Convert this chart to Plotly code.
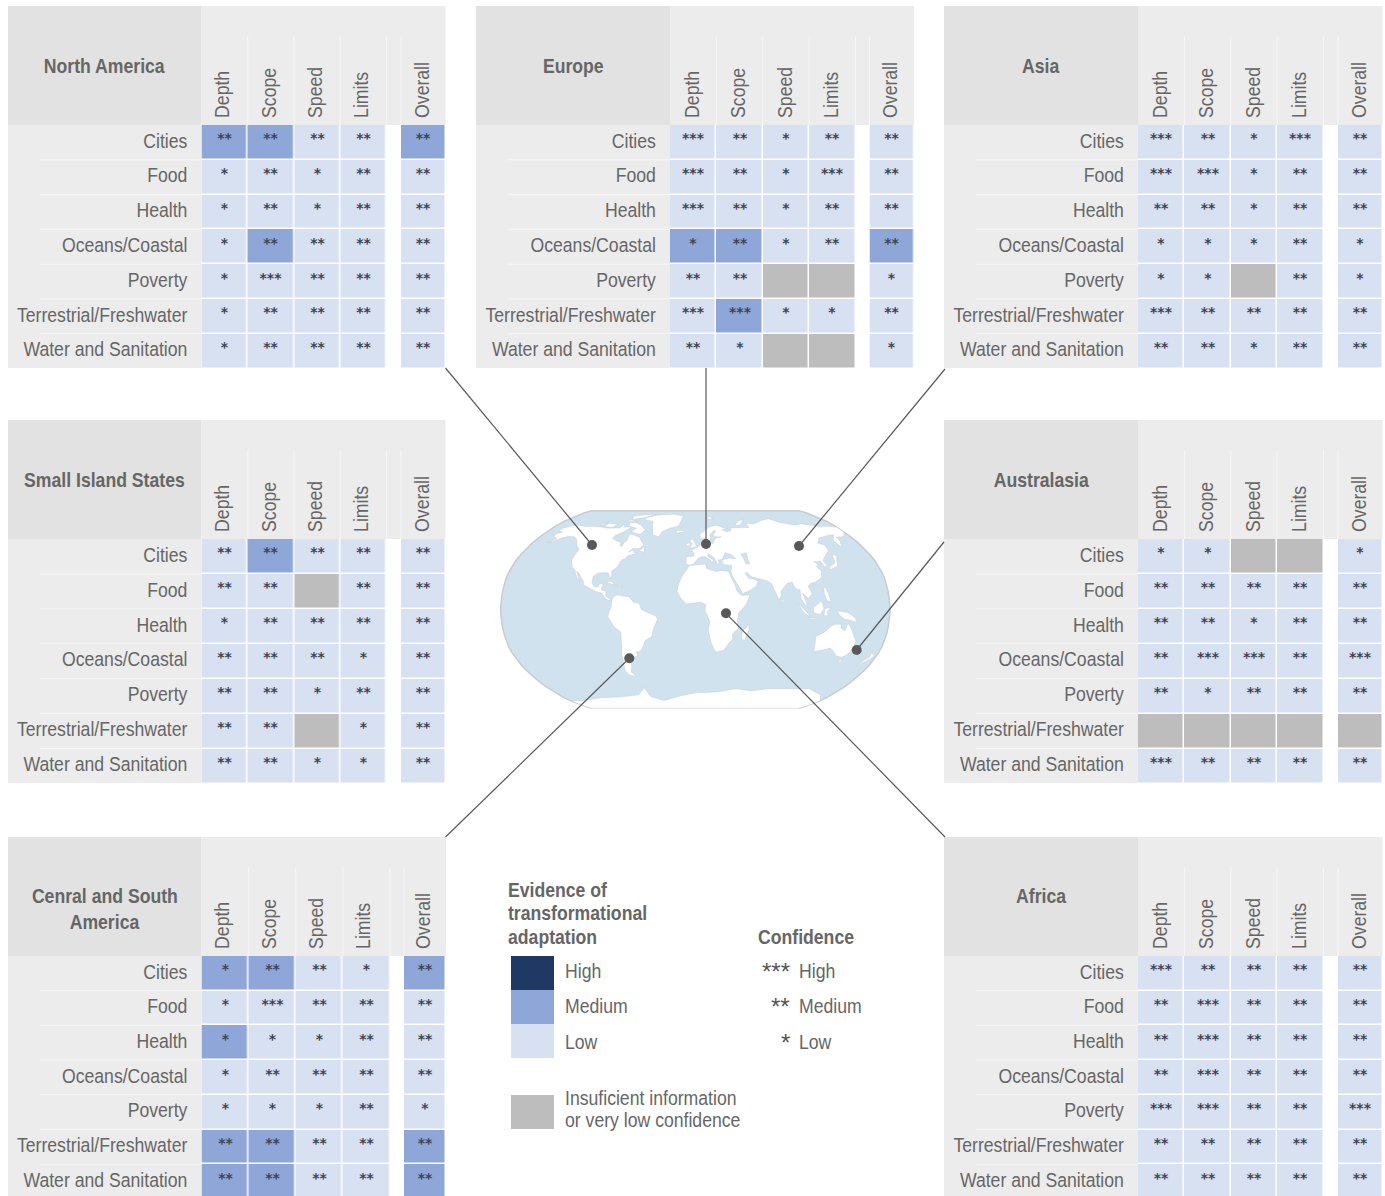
import numpy as np
import plotly.graph_objects as go

# ---------- data ----------
dimensions = ["Depth", "Scope", "Speed", "Limits"]
overall_label = ["Overall"]
sectors = ["Cities", "Food", "Health", "Oceans/Coastal", "Poverty",
           "Terrestrial/Freshwater", "Water and Sanitation"]

# evidence: 0 insufficient, 1 low, 2 medium, 3 high (columns Depth, Scope, Speed, Limits, Overall)
evidence_na = [[2,2,1,1,2],[1,1,1,1,1],[1,1,1,1,1],[1,2,1,1,1],[1,1,1,1,1],[1,1,1,1,1],[1,1,1,1,1]]
evidence_eu = [[1,1,1,1,1],[1,1,1,1,1],[1,1,1,1,1],[2,2,1,1,2],[1,1,0,0,1],[1,2,1,1,1],[1,1,0,0,1]]
evidence_as = [[1,1,1,1,1],[1,1,1,1,1],[1,1,1,1,1],[1,1,1,1,1],[1,1,0,1,1],[1,1,1,1,1],[1,1,1,1,1]]
evidence_si = [[1,2,1,1,1],[1,1,0,1,1],[1,1,1,1,1],[1,1,1,1,1],[1,1,1,1,1],[1,1,0,1,1],[1,1,1,1,1]]
evidence_au = [[1,1,0,0,1],[1,1,1,1,1],[1,1,1,1,1],[1,1,1,1,1],[1,1,1,1,1],[0,0,0,0,0],[1,1,1,1,1]]
evidence_cs = [[2,2,1,1,2],[1,1,1,1,1],[2,1,1,1,1],[1,1,1,1,1],[1,1,1,1,1],[2,2,1,1,2],[2,2,1,1,2]]
evidence_af = [[1,1,1,1,1],[1,1,1,1,1],[1,1,1,1,1],[1,1,1,1,1],[1,1,1,1,1],[1,1,1,1,1],[1,1,1,1,1]]

# confidence: number of stars
confidence_na = [[2,2,2,2,2],[1,2,1,2,2],[1,2,1,2,2],[1,2,2,2,2],[1,3,2,2,2],[1,2,2,2,2],[1,2,2,2,2]]
confidence_eu = [[3,2,1,2,2],[3,2,1,3,2],[3,2,1,2,2],[1,2,1,2,2],[2,2,0,0,1],[3,3,1,1,2],[2,1,0,0,1]]
confidence_as = [[3,2,1,3,2],[3,3,1,2,2],[2,2,1,2,2],[1,1,1,2,1],[1,1,0,2,1],[3,2,2,2,2],[2,2,1,2,2]]
confidence_si = [[2,2,2,2,2],[2,2,0,2,2],[1,2,2,2,2],[2,2,2,1,2],[2,2,1,2,2],[2,2,0,1,2],[2,2,1,1,2]]
confidence_au = [[1,1,0,0,1],[2,2,2,2,2],[2,2,1,2,2],[2,3,3,2,3],[2,1,2,2,2],[0,0,0,0,0],[3,2,2,2,2]]
confidence_cs = [[1,2,2,1,2],[1,3,2,2,2],[1,1,1,2,2],[1,2,2,2,2],[1,1,1,2,1],[2,2,2,2,2],[2,2,2,2,2]]
confidence_af = [[3,2,2,2,2],[2,3,2,2,2],[2,3,2,2,2],[2,3,2,2,2],[3,3,2,2,3],[2,2,2,2,2],[2,2,2,2,2]]

region_names = [["North America"], ["Europe"], ["Asia"], ["Small Island States"], ["Australasia"],
                ["Cenral and South", "America"], ["Africa"]]

# coastlines, lon/lat, as rough reading of the base map
land_polygons = [
 [(-168,65.6),(-166,68.3),(-156.5,71.3),(-141,69.7),(-128,70),(-115,68.5),(-108,68),(-95,68.5),(-94,72),(-90,69),(-85,69.5),(-81.5,68.5),(-87,64.5),(-94,61),(-94.5,58.7),(-88,56.5),(-82,55),(-82,52.5),(-79,51.5),(-79,55),(-77,56.5),(-78,62.3),(-73,62),(-70,61),(-65,60),(-62,57.5),(-56,53),(-60,50),(-66,50),(-70,47),(-65,49),(-64.5,47),(-61,46),(-66,44.5),(-70,43.5),(-70,41.7),(-74,40.5),(-76,37),(-76,35),(-81,31.5),(-80,27),(-80.5,25.2),(-82.7,28),(-84,30),(-89,30),(-94,29.5),(-97.5,27),(-97.7,22),(-95,18.5),(-91,18.5),(-90.5,21),(-87,21.5),(-88,16),(-83.5,15),(-83.5,11),(-80,9),(-77.5,8.5),(-80,7.5),(-83,8.3),(-87,13),(-92,14.5),(-96,16),(-105,20),(-106,23),(-112,29.5),(-114.7,31),(-112,27),(-110,23),(-112,25),(-115,29),(-117,32.5),(-120.5,34.5),(-122.5,37.5),(-124.3,40.5),(-124,46),(-123,49),(-128,52),(-131,55),(-135,58),(-140,60),(-147,60.5),(-152,59.5),(-158,56.5),(-164,54.8),(-158,58.5),(-165,60.5),(-165,63),(-161,64.5)],
 [(-73,78.2),(-60,82),(-35,83.5),(-18,81),(-20,74),(-22,70),(-32,68),(-40,65),(-43,60),(-50,62),(-54,68),(-58,75),(-68,76)],
 [(-80,73.5),(-72,71.5),(-62,66.5),(-65,62.5),(-72,63.5),(-78,65),(-74,68),(-85,70),(-88,73.5)],
 [(-90,77),(-75,78.5),(-62,82.5),(-75,83),(-92,81)],
 [(-117,69.5),(-105,69),(-102,72),(-115,73)],
 [(-125,72),(-118,74.5),(-122,71)],
 [(-96,74.5),(-80,74.8),(-90,76.5)],
 [(-59,47.7),(-53,47),(-55.5,51.5)],
 [(-85,22),(-75,20),(-80,23)],
 [(-74,19.5),(-68.5,18.5),(-71,18)],
 [(-77.5,8.5),(-75,11),(-72,12),(-68,11),(-62,10.5),(-57,6),(-52,5),(-50,0),(-44,-2.5),(-37,-5),(-35,-8),(-39,-15),(-41,-22),(-48,-25.5),(-50,-30),(-54,-34.5),(-58,-34.5),(-57,-38),(-62,-39),(-65,-42),(-66,-46),(-69,-51),(-65,-55),(-72,-54),(-75,-50),(-73,-42),(-73,-37),(-71,-30),(-70,-18.5),(-76,-14),(-81,-6),(-80,-2),(-78,2)],
 [(-9,37),(-9.5,43),(-2,43.5),(-1,46),(-4.5,48.5),(2,51),(8,54),(8,57),(10.5,57.5),(10,54.5),(14,54),(20,54.5),(21,57),(24,59),(30,60),(23,60),(21,62),(25,65.5),(22,65.5),(17,61.5),(18,59.5),(16,56),(13,55.5),(11,59),(6,58.2),(5,62),(13,67),(20,70),(28,71),(40,67),(33,66.5),(38,64.5),(44,66),(44,68.5),(54,68.5),(60,69),(68,68.5),(67,72.5),(73,73),(75,72),(80,73),(90,75.5),(105,77.7),(113,74),(130,71),(140,72.5),(160,69.7),(170,70),(180,69),(180,65),(177,62.5),(170,60),(163,59.8),(162,56),(156.7,51),(155.5,57),(163,62),(156,61.5),(142,59),(135,54.5),(141,53),(140,48),(132,43),(128,40),(129.5,36),(126.5,34.5),(126,37.5),(125,39.8),(121,39),(118,39),(122,37),(119,35),(122,31),(120,26),(114,22.5),(109,21.5),(106,19),(109,13),(105,9),(100,13.5),(103,5),(104,1.5),(100,6),(98,9),(98,16),(94,17),(91.5,22.5),(87,21.5),(80,15),(80,11),(77.5,8),(73,18),(72,21),(68,23.5),(62,25),(57,26),(54,26.5),(50,30),(48,30),(51,25),(55,25),(59.5,23),(57,19),(52,16),(44,12.8),(42.5,16),(39,21),(35,28),(34.5,31.5),(36,36),(30,36.3),(27,37.5),(26.5,40),(29,41),(35,42),(41,41.5),(37,45),(33.5,46),(31,46.5),(28,42),(26,40.7),(23,40.5),(24,38),(22,36.8),(19.5,41),(19,42.5),(13.5,45.5),(12.5,44),(16,41.5),(18.4,40),(16,38),(15.5,40),(10.5,43),(6,43),(3,42),(0,39.5),(-2,37),(-5.5,36)],
 [(-6,35.8),(10,37.2),(11,33.5),(15,32.3),(20,31),(25,31.7),(32,31.2),(32.5,30),(35.5,24),(37,21),(39,15),(43,11.5),(51,12),(47,4),(40,-3),(39,-10),(40.5,-15),(35,-20),(35.5,-24),(32.5,-27),(28,-33),(20,-34.8),(18,-32),(15,-27),(12,-17),(13.5,-10),(9,-1),(9.5,4),(5,6),(-4,5),(-8,4.5),(-13,8.5),(-17,14.5),(-16,20),(-13,27),(-9.5,31)],
 [(49.5,-12),(50.3,-16),(47,-25),(44,-24.5),(44,-17),(47,-15.5)],
 [(114,-22),(122,-18),(126,-14),(130,-12),(136,-12),(136,-15),(140,-17.5),(142,-11),(145.5,-15),(149,-21),(153,-26),(153,-31),(150,-37),(146,-39),(140,-38),(136,-35),(131,-31.5),(124,-33),(115.5,-34.5),(115,-30)],
 [(145,-41),(148,-41),(147,-43.5)],
 [(173,-35),(178,-38),(175,-41),(172,-43),(167,-46.5),(171,-41),(174,-39)],
 [(130,32),(136,34),(140,35.5),(142,40),(145,44),(141,45),(139,38),(132,35)],
 [(95,5.5),(104,-3),(106,-6),(101,-3),(97,2)],
 [(105,-6.5),(114,-7.5),(114,-8.5),(106,-7.5)],
 [(109,1.5),(117,7),(119,1),(116,-4),(110,-3)],
 [(119,-5),(120,1),(125,1.5),(122,-2),(123,-5)],
 [(131,-1),(141,-2.5),(148,-6.5),(150,-10.5),(143,-8.5),(138,-8),(133,-4)],
 [(120.5,18),(122,18),(124,13),(126,7),(122,7),(120,14)],
 [(120,23),(122,25),(121,22)],
 [(80,9),(82,7),(80.5,6)],
 [(-5.5,50),(1.5,51.5),(0,54),(-2,57.5),(-4,58.5),(-6,56),(-3,54),(-5,52)],
 [(-10,52),(-6,52.2),(-6,55),(-10,54)],
 [(-24,65.5),(-14,66),(-14,64.5),(-22,63.5)],
 [(12,78),(22,80),(25,77)],
 [(52,71),(58,71),(68,77),(58,75)],
]
antarctica = [(-60,-64),(-62,-66),(-60,-74),(-45,-78),(-20,-73),(0,-70),(30,-69),(50,-66),(70,-68),(90,-66),(110,-66),(140,-66),(165,-72),(180,-78),(180,-84),(180,-90),(-180,-90),(-180,-84),(-180,-78),(-160,-78),(-130,-75),(-100,-74),(-75,-72)]
inland_sea = [(47,45),(53,46.5),(53,41),(54,37),(50,37.5),(49,41)]

robinson_lat = list(range(0, 95, 5))
robinson_plen = [1.0,0.9986,0.9954,0.99,0.9822,0.973,0.96,0.9427,0.9216,0.8962,0.8679,0.835,0.7986,0.7597,0.7186,0.6732,0.6213,0.5722,0.5322]
robinson_pdfe = [0,0.062,0.124,0.186,0.248,0.31,0.372,0.434,0.4958,0.5571,0.6176,0.6769,0.7346,0.7903,0.8435,0.8936,0.9394,0.9761,1.0]

# ---------- styling ----------
W, H = 1385, 1196
FONT = "Liberation Sans, Arial"
GREY_TXT = "#666666"
C_INS, C_LOW, C_MED, C_HIGH = "#BDBDBD", "#D8E1F2", "#8EA7D8", "#1F3864"
HEAD_DARK, HEAD_LIGHT = "#E2E2E2", "#ECECEC"

panels = [
    (0, 8, 6, evidence_na, confidence_na, 201.5, 386.5, 401, 445.5, 368.5, -2),
    (1, 476, 6, evidence_eu, confidence_eu, 670, 855.5, 869.5, 914, 368.5, -1),
    (2, 944, 6, evidence_as, confidence_as, 1138, 1323.5, 1338, 1382.5, 368.5, -1),
    (3, 8, 420, evidence_si, confidence_si, 201.5, 386.5, 401, 445.5, 783.5, -2),
    (4, 944, 420, evidence_au, confidence_au, 1138, 1323.5, 1338, 1382.5, 783.5, -1),
    (5, 8, 837, evidence_cs, confidence_cs, 201.5, 390, 404, 446, 1199, -3),
    (6, 944, 837, evidence_af, confidence_af, 1138, 1323.5, 1338, 1382.5, 1199, -1),
]

def px(x): return x / W
def py(y): return 1 - y / H

fig = go.Figure()
shapes, annotations = [], []
layout_axes = {}
scale = [[0, C_INS], [0.25, C_INS], [0.25, C_LOW], [0.5, C_LOW], [0.5, C_MED], [0.75, C_MED], [0.75, C_HIGH], [1, C_HIGH]]
tick_font = dict(family=FONT, size=20.5, color=GREY_TXT)

def rect(x0, y0, x1, y1, color):
    shapes.append(dict(type="rect", xref="paper", yref="paper", x0=px(x0), x1=px(x1),
                       y0=py(y0), y1=py(y1), fillcolor=color, line_width=0, layer="below"))

def line(x0, y0, x1, y1, color="#F6F6F6", width=1):
    shapes.append(dict(type="line", xref="paper", yref="paper", x0=px(x0), x1=px(x1),
                       y0=py(y0), y1=py(y1), line=dict(color=color, width=width), layer="below"))

def note(x, y, text, anchor="left", size=20.5, bold=False, color=GREY_TXT, family=FONT):
    t = f"<b>{text}</b>" if bold else text
    dx = -2 if anchor == "left" else 0
    annotations.append(dict(xref="paper", yref="paper", x=px(x + dx), y=py(y - 1), text=t, showarrow=False,
                            xanchor=anchor, yanchor="middle", align=anchor,
                            font=dict(family=family, size=size, color=color)))

def stars(conf):
    return [["*" * c for c in row] for row in conf]

ax = 1
for idx, x0, y0, ev, conf, cx0, cx1, ox0, ox1, bottom, label_shift in panels:
    top = y0 + 119
    rect(x0, y0, cx0, top, HEAD_DARK)
    rect(cx0, y0, ox1, top, HEAD_LIGHT)
    rect(x0, top, cx0, min(bottom - 0.5, H), HEAD_LIGHT)
    pitch = (bottom - top) / 7
    for r in range(1, 7):
        line(x0 + 32, top + r * pitch, cx0, top + r * pitch)
    w = (cx1 - cx0) / 4
    for c in [1, 2, 3, 4]:
        line(cx0 + c * w, y0 + 30, cx0 + c * w, top)
    line(ox0, y0 + 30, ox0, top)
    main_z = [r[:4] for r in ev]
    main_t = [r[:4] for r in stars(conf)]
    over_z = [r[4:] for r in ev]
    over_t = [r[4:] for r in stars(conf)]
    xa, xb, ya = ax, ax + 1, idx + 1
    names = lambda n: "x" if n == 1 else f"x{n}"
    yname = "y" if ya == 1 else f"y{ya}"
    for xn, cols, z, t in ((xa, dimensions, main_z, main_t), (xb, overall_label, over_z, over_t)):
        fig.add_trace(go.Heatmap(
            x=cols, y=sectors, z=z, text=t, texttemplate="%{text}",
            textfont=dict(family="DejaVu Sans", size=14, color="#3F4454", weight="bold"),
            colorscale=scale, zmin=0, zmax=4, showscale=False, xgap=1.5, ygap=1.5,
            hoverinfo="skip", xaxis=names(xn), yaxis=yname))
    common = dict(type="category", side="top", tickangle=-90, tickfont=tick_font, ticks="outside",
                  ticklen=2, tickcolor="rgba(0,0,0,0)", showgrid=False, zeroline=False,
                  showline=False, anchor=yname, automargin=False, ticklabelshift=label_shift)
    layout_axes[f"xaxis{xa if xa > 1 else ''}"] = dict(common, domain=[px(cx0), px(cx1)],
                                                       range=[-0.5, 3.5], categoryorder="array", categoryarray=dimensions)
    layout_axes[f"xaxis{xb}"] = dict(common, domain=[px(ox0), px(ox1)], range=[-0.5, 0.5],
                                     ticklabelshift=-1 if idx != 5 else -2)
    vis_bottom = min(bottom, H)
    ymax = 6.5 - (bottom - vis_bottom) / pitch
    layout_axes[f"yaxis{ya if ya > 1 else ''}"] = dict(
        type="category", domain=[py(vis_bottom), py(top)], range=[ymax, -0.5],
        categoryorder="array", categoryarray=sectors, tickfont=tick_font, ticks="outside", ticklen=9,
        ticklabelshift=2,
        tickcolor="rgba(0,0,0,0)", showgrid=False, zeroline=False, showline=False,
        anchor=names(xa), automargin=False)
    lines = region_names[idx]
    for k, txt in enumerate(lines):
        title_y = (y0 + 60 if y0 < 800 else y0 + 59) + k * 26
        note((x0 + cx0) / 2, title_y, txt, anchor="center", bold=True)
    ax += 2

# ---------- base map ----------
CX, CY, HW, HH = 695.33, 609.5, 194.67, 98.83
def project(lon, lat):
    a = abs(lat)
    plen = np.interp(a, robinson_lat, robinson_plen)
    pdfe = np.interp(a, robinson_lat, robinson_pdfe)
    return CX + HW * plen * lon / 180, CY - HH * pdfe * (1 if lat >= 0 else -1)

outline = [(-180, la) for la in range(-90, 95, 5)] + [(180, la) for la in range(90, -95, -5)]
mx = f"x{ax}"; my = "y8"
ox, oy = zip(*[project(*p) for p in outline])
fig.add_trace(go.Scatter(x=list(ox), y=list(oy), mode="lines", fill="toself", fillcolor="#CFE2EE",
                         line=dict(color="#C9CCCE", width=1.5), hoverinfo="skip", xaxis=mx, yaxis=my))
for group in (land_polygons, [antarctica]):
    lx, ly = [], []
    for poly in group:
        for lon, lat in poly + poly[:1]:
            a, b = project(lon, lat)
            lx.append(a); ly.append(b)
        lx.append(None); ly.append(None)
    fig.add_trace(go.Scatter(x=lx, y=ly, mode="lines", fill="toself", fillcolor="#FFFFFF",
                             line=dict(color="#C9CDD0", width=0.5), hoverinfo="skip", xaxis=mx, yaxis=my))
sx, sy = zip(*[project(*p) for p in inland_sea + inland_sea[:1]])
fig.add_trace(go.Scatter(x=list(sx), y=list(sy), mode="lines", fill="toself", fillcolor="#CFE2EE",
                         line=dict(color="#C9CDD0", width=0.5), hoverinfo="skip", xaxis=mx, yaxis=my))

# region pointers
pointer_x = [592, 706, 799, 856.7, 726, 629.3]
pointer_y = [545, 544, 546, 650, 613.3, 658.3]
start_x = [445.5, 706, 945, 944, 945, 445.5]
start_y = [368, 368, 369, 542, 837, 837]
for a, b, c, d in zip(start_x, start_y, pointer_x, pointer_y):
    fig.add_trace(go.Scatter(x=[a, c], y=[b, d], mode="lines", line=dict(color="#595959", width=1.2),
                             hoverinfo="skip", xaxis=mx, yaxis=my))
fig.add_trace(go.Scatter(x=pointer_x, y=pointer_y, mode="markers", marker=dict(color="#595959", size=10),
                         hoverinfo="skip", xaxis=mx, yaxis=my))
layout_axes[f"xaxis{ax}"] = dict(domain=[0, 1], range=[0, W], visible=False, anchor=my)
layout_axes["yaxis8"] = dict(domain=[0, 1], range=[H, 0], visible=False, anchor=mx)

# ---------- legend ----------
note(508, 890, "Evidence of", bold=True)
note(508, 913, "transformational", bold=True)
note(508, 937, "adaptation", bold=True)
note(758, 937, "Confidence", bold=True)
for (y0, y1, col, lab, st, yc) in [(956, 990, C_HIGH, "High", "***", 971),
                                   (990, 1024, C_MED, "Medium", "**", 1006),
                                   (1024, 1058, C_LOW, "Low", "*", 1042)]:
    rect(511, y0, 554, y1, col)
    note(565, yc, lab)
    note(799, yc, lab)
    note(792, yc + 1, st, anchor="right", size=24, color="#555555")
rect(511, 1095, 554, 1129, C_INS)
note(565, 1098, "Insuficient information")
note(565, 1120, "or very low confidence")

fig.update_layout(width=W, height=H, margin=dict(l=0, r=0, t=0, b=0), showlegend=False,
                  paper_bgcolor="white", plot_bgcolor="rgba(0,0,0,0)", shapes=shapes,
                  annotations=annotations, **layout_axes)

# the reference uses a narrow cut of the typeface: condense the label text in place;
# the confidence stars sit high in their cells
condense = """
document.body.style.margin='0';
document.documentElement.style.overflow='hidden';
document.querySelectorAll('svg text').forEach(function(t){
  var s=(t.textContent||'').trim();
  if(!s) return;
  if(/^[*]+$/.test(s)){
    if(t.closest('.heatmap-label')||t.closest('.hm')){
      var tr=t.getAttribute('transform')||'';
      t.setAttribute('transform',tr+' translate(0,-4)');
    }
    return;
  }
  var L=t.getComputedTextLength();
  t.setAttribute('textLength',L*0.86);
  t.setAttribute('lengthAdjust','spacingAndGlyphs');
});
"""
fig.write_html("out.html", config=dict(displayModeBar=False), post_script=condense)
